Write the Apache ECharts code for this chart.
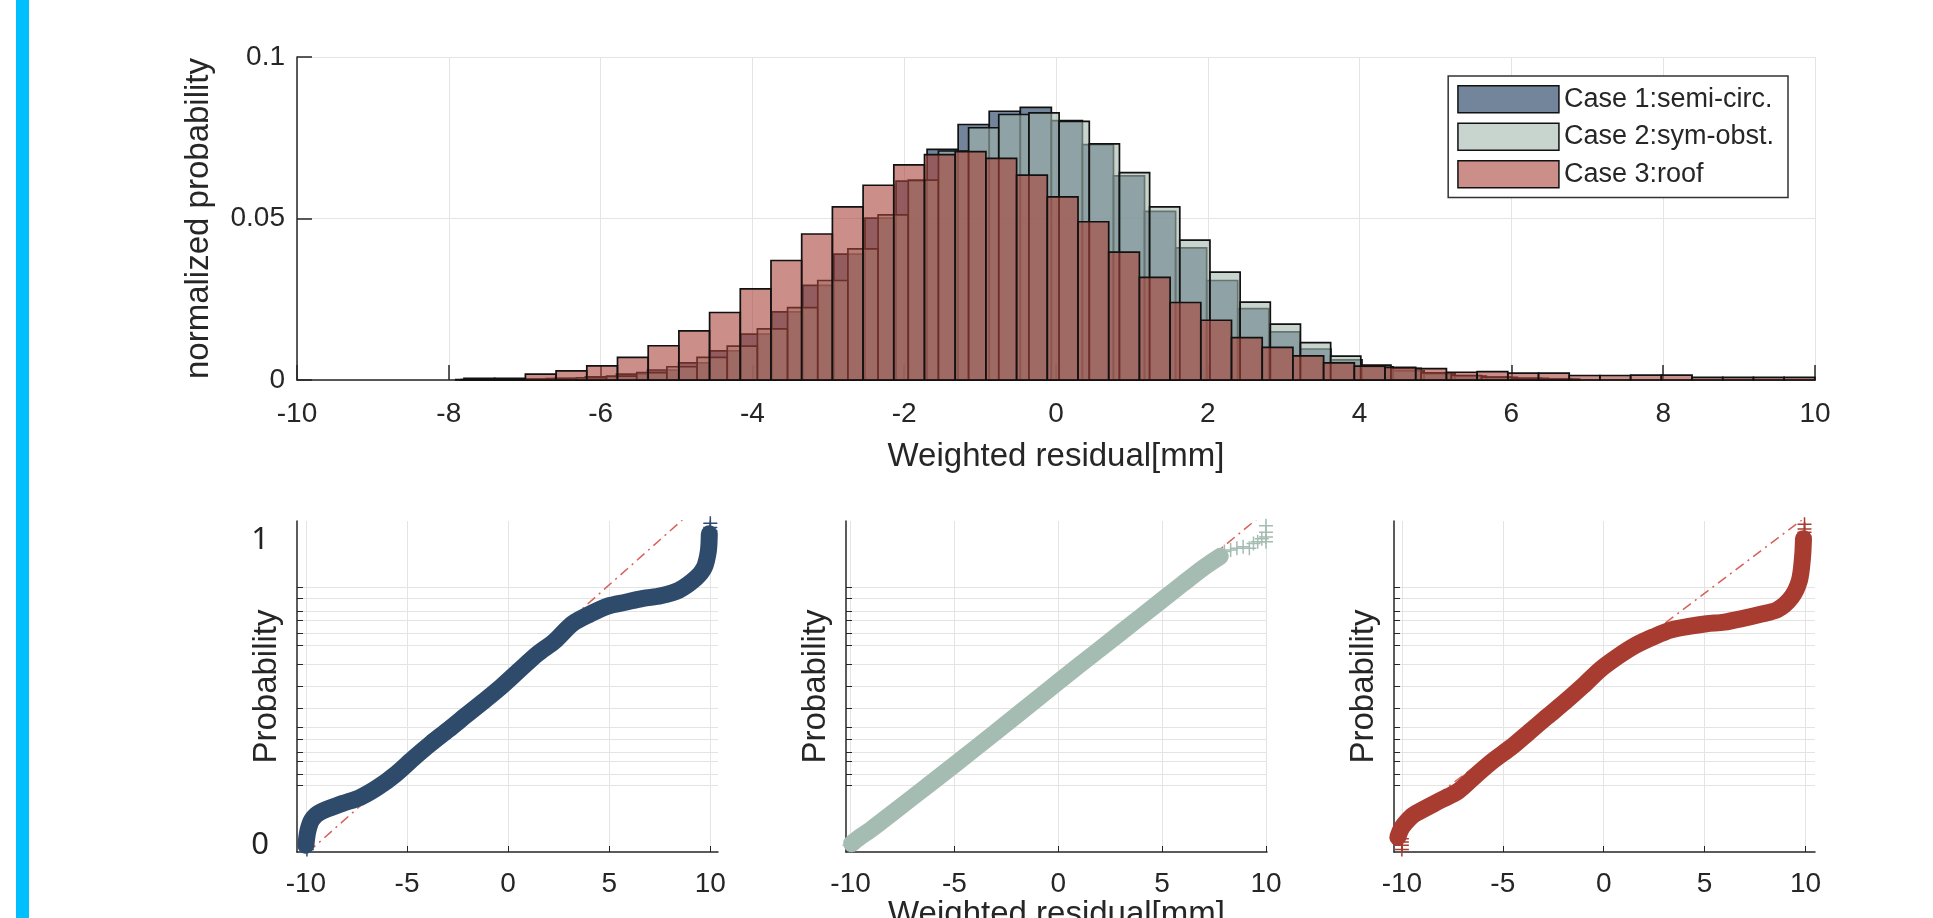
<!DOCTYPE html>
<html>
<head>
<meta charset="utf-8">
<title>Weighted residual: histogram and normal probability plots</title>
<script src="https://cdn.jsdelivr.net/npm/echarts@6/dist/echarts.min.js"></script>
<style>
html,body{margin:0;padding:0;background:#fff;overflow:hidden;}
#chart{position:absolute;left:0;top:0;width:1933px;height:918px;}
#side-bar{position:absolute;left:16px;top:0;width:13px;height:918px;background:#00bfff;}
</style>
</head>
<body>
<div id="chart"></div>
<div id="side-bar"></div>
<script>
// ---- histogram: normalized probability per bin (bins of equal width from a start edge)
var caseNames = ['Case 1:semi-circ.', 'Case 2:sym-obst.', 'Case 3:roof'];
var caseColors = ['rgba(47,75,107,0.68)', 'rgba(163,184,174,0.6)', 'rgba(170,66,56,0.6)'];
var lineColors = ['#2f4b6c', '#a5bcb2', '#a83c31'];

var case1Start = -7.838, case1Width = 0.4093;
var case1Prob = [0.0001,0.0002,0.0003,0.0005,0.0010,0.0018,0.0031,0.0053,0.0090,0.0142,
  0.0211,0.0293,0.0390,0.0501,0.0616,0.0714,0.0791,0.0832,0.0844,0.0803,
  0.0729,0.0632,0.0522,0.0409,0.0308,0.0221,0.0149,0.0096,0.0062,0.0041,
  0.0028,0.0019,0.0012,0.0008,0.0005,0.0003];

var case2Start = -7.909, case2Width = 0.3975;
var case2Prob = [0.0001,0.0001,0.0002,0.0004,0.0007,0.0012,0.0023,0.0041,0.0070,0.0105,
  0.0158,0.0224,0.0308,0.0406,0.0511,0.0619,0.0709,0.0781,0.0822,0.0827,
  0.0801,0.0731,0.0642,0.0536,0.0433,0.0334,0.0241,0.0173,0.0116,0.0074,
  0.0046,0.0036,0.0022,0.0014,0.0009,0.0005,0.0003];

var case3Start = -7.8, case3Width = 0.4045;
var case3Prob = [0.0005,0.0005,0.0018,0.0028,0.0044,0.0070,0.0106,0.0152,0.0209,0.0282,
  0.0370,0.0452,0.0536,0.0603,0.0666,0.0698,0.0707,0.0686,0.0634,0.0567,
  0.0490,0.0396,0.0318,0.0240,0.0185,0.0131,0.0101,0.0075,0.0053,0.0043,
  0.0039,0.0035,0.0024,0.0026,0.0021,0.0021,0.0014,0.0014,0.0015,0.0015,
  0.0008,0.0008,0.0008,0.0008];

// ---- normal probability plots, y given as normal score
// gridlines at p = .001 .003 .01 .02 .05 .10 .25 .50 .75 .90 .95 .98 .99 .997 .999
var probGridZ = [-3.090,-2.748,-2.326,-2.054,-1.645,-1.282,-0.674,0,0.674,1.282,1.645,2.054,2.326,2.748,3.090];
var zLabelValues = [-4.95, 4.54];   // where the "0" and "1" labels sit
var probXTicks = [-10, -5, 0, 5, 10];

var semiX = [-10.0,-9.9,-9.7,-9.3,-8.2,-7.32,-6.45,-5.57,-4.7,-3.82,-2.95,-2.07,-1.2,-0.32,0.55,1.43,2.3,3.18,4.05,4.93,5.8,6.68,7.55,8.43,9.3,9.7,9.9,9.95];
var semiZ = [-4.95,-4.5,-4.15,-3.92,-3.65,-3.46,-3.15,-2.74,-2.25,-1.78,-1.35,-0.9,-0.46,0,0.5,1.0,1.41,1.95,2.25,2.5,2.62,2.74,2.82,2.99,3.38,3.7,4.2,4.75];
var semiPlusX = [-9.95,-9.95,-9.95,10.0,10.0,10.0];
var semiPlusZ = [-4.85,-4.95,-5.08,4.85,4.95,5.08];
var semiRefX = [-9.9, 9.9], semiRefZ = [-5.17, 5.90];

var symX = [-9.95,-9.6,-9.0,-8.0,-6.0,-4.0,-2.0,0,2.0,4.0,6.0,7.0,7.8];
var symZ = [-4.9,-4.72,-4.45,-3.95,-2.95,-1.93,-0.9,0.14,1.16,2.18,3.2,3.7,4.05];
var symPlusX = [-10.05,-9.9,-9.8,8.0,8.3,8.6,8.9,9.2,9.4,9.6,9.8,10.0,10.0,10.0,10.0];
var symPlusZ = [-4.95,-4.85,-4.75,4.2,4.25,4.3,4.35,4.3,4.45,4.5,4.6,4.5,4.65,4.8,5.0];
var symRefX = [-9.9, 9.9], symRefZ = [-5.11, 5.39];

var roofX = [-10.2,-10.0,-9.6,-9.31,-8.08,-7.2,-6.33,-5.45,-4.57,-3.69,-2.81,-1.93,-1.05,-0.18,0.70,1.58,2.46,3.34,4.22,5.10,5.98,6.85,7.73,8.61,9.31,9.7,9.85,9.9];
var roofZ = [-4.7,-4.4,-4.1,-3.96,-3.55,-3.26,-2.77,-2.30,-1.89,-1.42,-0.95,-0.49,0,0.52,0.93,1.28,1.54,1.76,1.87,1.95,2.0,2.11,2.24,2.39,2.78,3.3,4.0,4.6];
var roofPlusX = [-10.0,-10.0,-10.0,-10.0,9.95,9.95,9.95];
var roofPlusZ = [-4.75,-4.85,-4.95,-5.08,4.8,4.9,5.05];
var roofRefX = [-10.0, 10.0], roofRefZ = [-4.21, 5.27];

var probRanges = [[-10.44, 10.38], [-10.22, 10.05], [-10.39, 10.47]];
var probLefts = [297, 846, 1394];

var TXT = '#262626', GRID = '#e4e4e4', FONT = 'Liberation Sans';

function histBins(start, width, probs) {
  return probs.map(function (p, i) {
    return [start + i * width, start + (i + 1) * width, p];
  });
}
function pairs(xs, ys) {
  return xs.map(function (x, i) { return [x, ys[i]]; });
}

function renderBin(params, api) {
  var p0 = api.coord([api.value(0), api.value(2)]);
  var p1 = api.coord([api.value(1), 0]);
  return {
    type: 'rect',
    shape: { x: p0[0], y: p0[1], width: p1[0] - p0[0], height: p1[1] - p0[1] },
    style: { fill: api.visual('color'), stroke: '#111', lineWidth: 1.7 }
  };
}

var chart = echarts.init(document.getElementById('chart'));

var grids = [{ left: 297, top: 57, width: 1518, height: 323, outerBoundsMode: 'none' }];
var xAxes = [{
  gridIndex: 0, type: 'value', min: -10, max: 10, interval: 2,
  name: 'Weighted residual[mm]', nameLocation: 'middle', nameGap: 60,
  nameTextStyle: { fontSize: 33, color: TXT, fontFamily: FONT },
  axisLine: { onZero: false, lineStyle: { color: TXT, width: 1.5 } },
  axisTick: { inside: true, length: 15, lineStyle: { color: TXT, width: 1.5 } },
  axisLabel: { fontSize: 28, color: TXT, fontFamily: FONT, margin: 20 },
  splitLine: { show: true, lineStyle: { color: GRID, width: 1 } }
}];
var yAxes = [{
  gridIndex: 0, type: 'value', min: 0, max: 0.1, interval: 0.05,
  name: 'normalized probability', nameLocation: 'middle', nameGap: 82, nameMoveOverlap: false,
  nameTextStyle: { fontSize: 33, color: TXT, fontFamily: FONT },
  axisLine: { show: true, onZero: false, lineStyle: { color: TXT, width: 1.5 } },
  axisTick: { show: true, inside: true, length: 15, lineStyle: { color: TXT, width: 1.5 } },
  axisLabel: { fontSize: 28, color: TXT, fontFamily: FONT, margin: 12 },
  splitLine: { show: true, lineStyle: { color: GRID, width: 1 } }
}];

var series = [
  { name: caseNames[0], type: 'custom', xAxisIndex: 0, yAxisIndex: 0, renderItem: renderBin,
    itemStyle: { color: caseColors[0] }, encode: { x: [0, 1], y: 2 },
    data: histBins(case1Start, case1Width, case1Prob) },
  { name: caseNames[1], type: 'custom', xAxisIndex: 0, yAxisIndex: 0, renderItem: renderBin,
    itemStyle: { color: caseColors[1] }, encode: { x: [0, 1], y: 2 },
    data: histBins(case2Start, case2Width, case2Prob) },
  { name: caseNames[2], type: 'custom', xAxisIndex: 0, yAxisIndex: 0, renderItem: renderBin,
    itemStyle: { color: caseColors[2] }, encode: { x: [0, 1], y: 2 },
    data: histBins(case3Start, case3Width, case3Prob) }
];

var curves = [
  { x: semiX, z: semiZ, px: semiPlusX, pz: semiPlusZ, rx: semiRefX, rz: semiRefZ },
  { x: symX, z: symZ, px: symPlusX, pz: symPlusZ, rx: symRefX, rz: symRefZ },
  { x: roofX, z: roofZ, px: roofPlusX, pz: roofPlusZ, rx: roofRefX, rz: roofRefZ }
];

curves.forEach(function (c, i) {
  var g = i + 1;
  grids.push({ left: probLefts[i], top: 521, width: 421, height: 331, outerBoundsMode: 'none' });
  xAxes.push({
    gridIndex: g, type: 'value', min: probRanges[i][0], max: probRanges[i][1],
    name: i === 1 ? 'Weighted residual[mm]' : '', nameLocation: 'middle', nameGap: 46,
    nameTextStyle: { fontSize: 33, color: TXT, fontFamily: FONT },
    axisLine: { onZero: false, lineStyle: { color: TXT, width: 1.5 } },
    axisTick: { inside: true, length: 6, customValues: probXTicks, lineStyle: { color: TXT } },
    axisLabel: { customValues: probXTicks, fontSize: 28, color: TXT, fontFamily: FONT, margin: 18 },
    splitLine: { show: true, lineStyle: { color: GRID, width: 1 } }
  });
  yAxes.push({
    gridIndex: g, type: 'value', min: -5.16, max: 5.15,
    name: 'Probability', nameLocation: 'middle', nameGap: 14, nameMoveOverlap: false,
    nameTextStyle: { fontSize: 33, color: TXT, fontFamily: FONT },
    axisLine: { show: true, onZero: false, lineStyle: { color: TXT, width: 1.5 } },
    axisTick: { show: true, inside: true, length: 6, customValues: probGridZ, lineStyle: { color: TXT } },
    axisLabel: {
      show: i === 0, customValues: zLabelValues, fontSize: 31, color: '#222',
      fontFamily: 'Noto Sans', margin: 28,
      formatter: function (v) { return v < 0 ? '0' : '1'; }
    },
    splitLine: { show: true, lineStyle: { color: GRID, width: 1 } }
  });
  series.push({
    type: 'line', xAxisIndex: g, yAxisIndex: g, symbol: 'none', silent: true,
    lineStyle: { color: '#d9605a', width: 1.5, type: [10, 5, 2, 5] },
    data: pairs(c.rx, c.rz)
  });
  series.push({
    type: 'line', xAxisIndex: g, yAxisIndex: g, symbol: 'none', smooth: 0.3, silent: true,
    lineStyle: { color: lineColors[i], width: 17, cap: 'round', join: 'round' },
    data: pairs(c.x, c.z)
  });
  series.push({
    type: 'scatter', xAxisIndex: g, yAxisIndex: g, silent: true,
    symbol: 'path://M10,0V20M0,10H20', symbolSize: 14,
    itemStyle: { color: 'rgba(0,0,0,0)', borderColor: lineColors[i], borderWidth: 1.5, opacity: 1 },
    data: pairs(c.px, c.pz)
  });
});

chart.setOption({
  animation: false,
  backgroundColor: '#fff',
  textStyle: { fontFamily: FONT },
  grid: grids,
  xAxis: xAxes,
  yAxis: yAxes,
  legend: {
    orient: 'vertical', right: 145, top: 76,
    icon: 'rect', itemWidth: 101, itemHeight: 27, itemGap: 9,
    padding: [9, 14, 9, 9],
    backgroundColor: '#fff', borderColor: '#333', borderWidth: 1.5, borderRadius: 0,
    selectedMode: false,
    textStyle: { fontSize: 27, color: TXT, fontFamily: FONT },
    itemStyle: { borderColor: '#111', borderWidth: 1.5 },
    data: caseNames
  },
  series: series
});
</script>
</body>
</html>
